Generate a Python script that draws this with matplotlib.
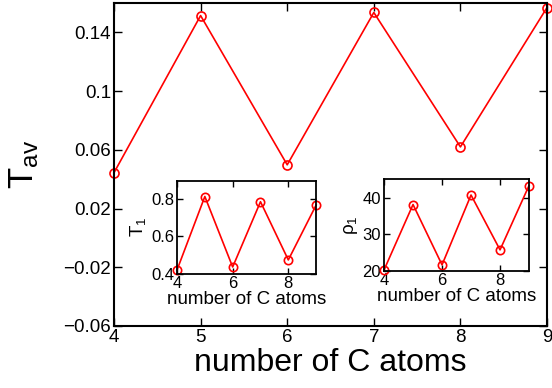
import numpy as np
import matplotlib.pyplot as plt
from matplotlib.ticker import FuncFormatter

plt.rcParams['font.family'] = ['Liberation Sans', 'DejaVu Sans']
plt.rcParams['mathtext.fontset'] = 'custom'
plt.rcParams['mathtext.rm'] = 'Liberation Sans'
plt.rcParams['mathtext.it'] = 'Liberation Sans'
plt.rcParams['axes.unicode_minus'] = True

# data
n_atoms = [4, 5, 6, 7, 8, 9]
t_av = [0.0444, 0.1515, 0.0498, 0.1536, 0.062, 0.157]
t_1 = [0.42, 0.815, 0.436, 0.787, 0.474, 0.769]
rho_1 = [20.2, 38.1, 21.6, 40.7, 25.7, 43.3]

main_yticks = [-0.06, -0.02, 0.02, 0.06, 0.1, 0.14]
inset_xticks = [4, 6, 8]
t1_yticks = [0.4, 0.6, 0.8]
rho_yticks = [20, 30, 40]


def fmt(v, pos):
    return ('%g' % v).replace('-', '\u2212')


def style(ax, fs, lw=1.3):
    for s in ax.spines.values():
        s.set_linewidth(lw)
    ax.tick_params(direction='in', top=True, right=True, length=4,
                   width=1.0, labelsize=fs, pad=2)
    ax.yaxis.set_major_formatter(FuncFormatter(fmt))


fig = plt.figure(figsize=(5.52, 3.88), dpi=100)

ax = fig.add_axes([0.2065, 0.160, 0.7845, 0.832])
ax.plot(n_atoms, t_av, color='red', lw=1.2, marker='o', ms=6.5,
        mfc='none', mec='red', mew=1.2, clip_on=False)
ax.set_xlim(4, 9)
ax.set_ylim(-0.06, 0.16)
ax.set_xticks(n_atoms)
ax.set_yticks(main_yticks)
style(ax, 13.5, lw=1.5)
ax.tick_params(length=6)
ax.set_xlabel('number of C atoms', fontsize=23, labelpad=2)
ax.set_ylabel(r'$\mathrm{T}_{\mathrm{av}}$', fontsize=25, labelpad=16)

ax1 = fig.add_axes([0.3207, 0.2946, 0.252, 0.2397])
ax1.plot(n_atoms, t_1, color='red', lw=1.2, marker='o', ms=6,
         mfc='none', mec='red', mew=1.2, clip_on=False)
ax1.set_xlim(4, 9)
ax1.set_ylim(0.4, 0.9)
ax1.set_xticks(inset_xticks)
ax1.set_yticks(t1_yticks)
style(ax1, 12)
ax1.set_xlabel('number of C atoms', fontsize=13.5, labelpad=0)
ax1.set_ylabel(r'$\mathrm{T}_1$', fontsize=13.5, labelpad=2)

ax2 = fig.add_axes([0.6957, 0.3023, 0.2627, 0.2356])
ax2.plot(n_atoms, rho_1, color='red', lw=1.2, marker='o', ms=6,
         mfc='none', mec='red', mew=1.2, clip_on=False)
ax2.set_xlim(4, 9)
ax2.set_ylim(20, 45)
ax2.set_xticks(inset_xticks)
ax2.set_yticks(rho_yticks)
style(ax2, 12)
ax2.set_xlabel('number of C atoms', fontsize=13.5, labelpad=0)
ax2.set_ylabel(r'$\rho_1$', fontsize=13.5, labelpad=2)

fig.savefig('out.png', dpi=100)
